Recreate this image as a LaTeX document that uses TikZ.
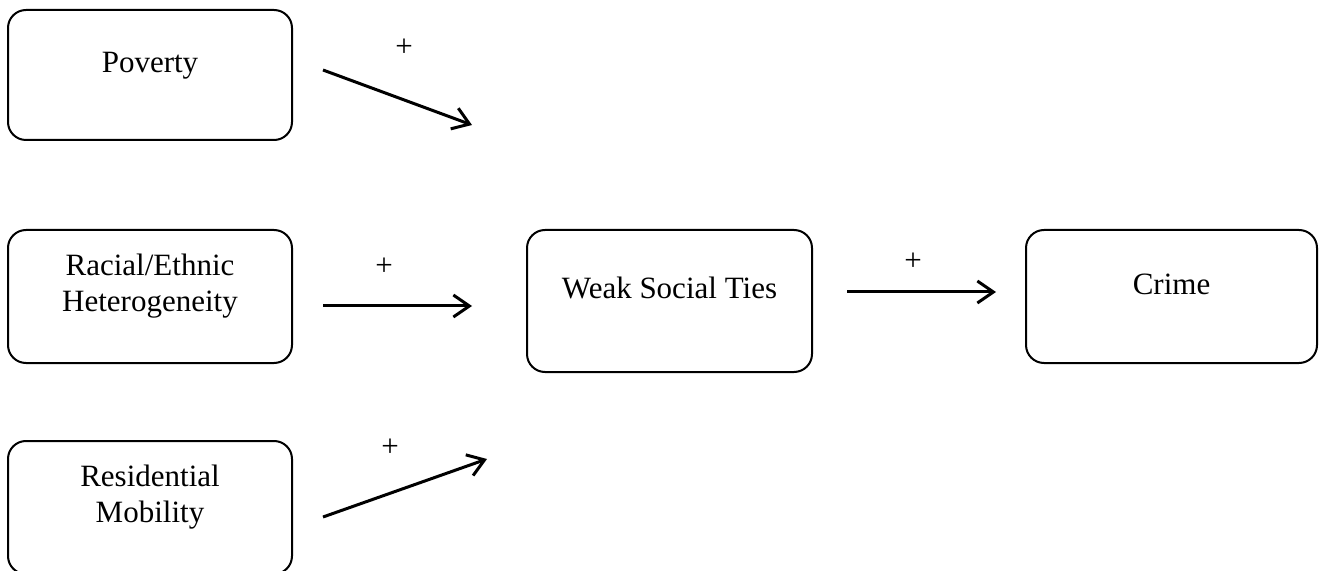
\documentclass[tikz,border=0pt]{standalone}
\usepackage{fontspec}
\setmainfont{Liberation Serif}
\usetikzlibrary{arrows.meta}
\tikzset{
  cbox/.style={draw, line width=1pt, rounded corners=9pt, inner sep=0pt, minimum width=142pt, minimum height=#1},
  cbox/.default=66.5pt,
  ctext/.style={font=\fontsize{15.5}{18}\selectfont, align=center, inner sep=0pt},
  cplus/.style={font=\fontsize{15.5}{18}\selectfont, inner sep=0pt},
  carrow/.style={line width=1.5pt, -{Straight Barb[length=8pt,width=11pt]}}
}
\begin{document}
\begin{tikzpicture}[x=0.5pt, y=-0.5pt]
\useasboundingbox (0,0) rectangle (1320,571);
\clip (0,0) rectangle (1320,571);
% boxes
\node[cbox=65pt] (pov) at (150,75) {};
\node[cbox] (rac) at (150,296.5) {};
\node[cbox] (res) at (150,507.5) {};
\node[cbox=71pt, minimum width=142.5pt] (weak) at (669.5,301) {};
\node[cbox, minimum width=145.5pt] (crime) at (1171.5,296.5) {};
% texts
\node[ctext, anchor=base] (povt) at ([yshift=1pt]pov.center) {Poverty};
\node[ctext] (ract) at ([yshift=5pt]rac.center) {Racial/Ethnic\\Heterogeneity};
\node[ctext] (rest) at ([yshift=5pt]res.center) {Residential\\Mobility};
\node[ctext, anchor=base] (weakt) at ([yshift=1pt]weak.center) {Weak Social Ties};
\node[ctext, anchor=base] (crimet) at ([yshift=1.25pt]crime.center) {Crime};
% arrows
\coordinate (povs) at (323,70);   \coordinate (pove) at (472,125);
\coordinate (racs) at (323,306);  \coordinate (race) at (472,306);
\coordinate (ress) at (323,517);  \coordinate (rese) at (487,459);
\coordinate (weaks) at (847,292); \coordinate (weake) at (996,292);
\draw[carrow] (povs) -- (pove);
\draw[carrow] (racs) -- (race);
\draw[carrow] (ress) -- (rese);
\draw[carrow] (weaks) -- (weake);
% signs
\node[cplus] (povp) at (404,48) {+};
\node[cplus] (racp) at (384,267) {+};
\node[cplus] (resp) at (390,448) {+};
\node[cplus] (weakp) at (913,262) {+};
\end{tikzpicture}
\end{document}
